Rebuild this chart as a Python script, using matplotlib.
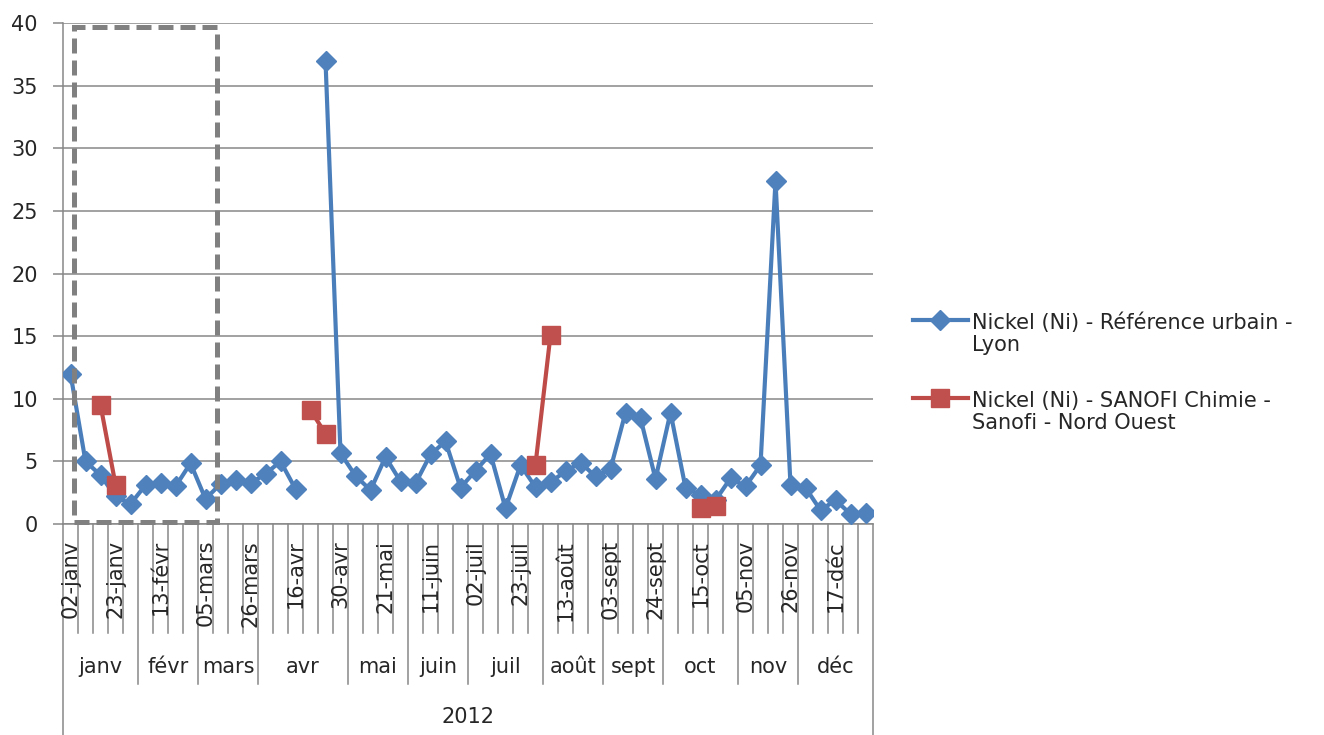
import numpy as np
import matplotlib
matplotlib.use("Agg")
import matplotlib.pyplot as plt
from matplotlib.lines import Line2D
from matplotlib.patches import Rectangle

plt.rcParams['font.family'] = ['DejaVu Sans']

# ---- data -------------------------------------------------------------
dates = ["02-janv", "09-janv", "16-janv", "23-janv", "30-janv",
         "06-févr", "13-févr", "20-févr", "27-févr",
         "05-mars", "12-mars", "19-mars", "26-mars",
         "02-avr", "09-avr", "16-avr", "23-avr", "25-avr", "30-avr",
         "07-mai", "14-mai", "21-mai", "28-mai",
         "04-juin", "11-juin", "18-juin", "25-juin",
         "02-juil", "09-juil", "16-juil", "23-juil", "30-juil",
         "06-août", "13-août", "20-août", "27-août",
         "03-sept", "10-sept", "17-sept", "24-sept",
         "01-oct", "08-oct", "15-oct", "22-oct", "29-oct",
         "05-nov", "12-nov", "19-nov", "26-nov",
         "03-déc", "10-déc", "17-déc", "24-déc", "31-déc"]
year = "2012"

nan = np.nan
lyon = [12.0, 5.0, 3.9, 2.2, 1.6, 3.1, 3.3, 3.0, 4.85, 2.0,
        3.2, 3.5, 3.25, 4.0, 5.0, 2.8, nan, 37.0, 5.65, 3.85,
        2.7, 5.35, 3.4, 3.25, 5.55, 6.6, 2.9, 4.25, 5.6, 1.25,
        4.7, 2.95, 3.35, 4.2, 4.9, 3.8, 4.4, 8.9, 8.45, 3.6,
        8.9, 2.9, 2.3, 1.9, 3.65, 3.0, 4.7, 27.4, 3.1, 2.9,
        1.1, 1.9, 0.8, 0.85]
sanofi = [nan, nan, 9.5, 3.15, nan, nan, nan, nan, nan, nan,
          nan, nan, nan, nan, nan, nan, 9.1, 7.2, nan, nan,
          nan, nan, nan, nan, nan, nan, nan, nan, nan, nan,
          nan, 4.75, 15.1, nan, nan, nan, nan, nan, nan, nan,
          nan, nan, 1.3, 1.45, nan, nan, nan, nan, nan, nan,
          nan, nan, nan, nan]

name_lyon = "Nickel (Ni) - Référence urbain -\nLyon"
name_sanofi = "Nickel (Ni) - SANOFI Chimie -\nSanofi - Nord Ouest"

# ---- style ------------------------------------------------------------
W, H = 1324, 735
grid_c = "#878787"
text_c = "#262626"
blue_l, blue_m = "#4A7EBB", "#4F81BD"
red_l, red_m = "#BE4B48", "#C0504D"
fs = 15

fig = plt.figure(figsize=(W / 100, H / 100), dpi=100)
fig.patch.set_facecolor("white")

ax_l, ax_r, ax_t, ax_b = 63, 873, 23, 524
ax = fig.add_axes([ax_l / W, (H - ax_b) / H, (ax_r - ax_l) / W, (ax_b - ax_t) / H])
ax_h = ax_b - ax_t

n = len(dates)
xs = np.arange(n)
ax.set_xlim(-0.5, n - 0.5)
ax.set_ylim(0, 40)
ax.set_yticks(np.arange(0, 41, 5))
ax.set_xticks([])
ax.yaxis.grid(True, color=grid_c, lw=1.1)
ax.set_axisbelow(True)
for s in ["top", "right", "bottom"]:
    ax.spines[s].set_visible(False)
ax.spines["left"].set_color(grid_c)
ax.spines["left"].set_linewidth(1.1)
ax.tick_params(axis="y", length=7, color=grid_c, width=1.1, pad=11,
               labelsize=fs, labelcolor=text_c)

# series
ax.plot(xs, lyon, color=blue_l, lw=3, marker="D", ms=10.5,
        mfc=blue_m, mec=blue_m, zorder=3)
ax.plot(xs, sanofi, color=red_l, lw=3, marker="s", ms=13.5,
        mfc=red_m, mec=red_m, zorder=4)

# dashed highlight frame around the first weeks
ax.add_patch(Rectangle((0.22, 0.15), 9.57, 39.5, fill=False,
                       edgecolor="#808080", lw=3.6,
                       linestyle=(0, (3, 1.4)), clip_on=False, zorder=5))

# ---- multi-level category axis -----------------------------------------
trans = ax.get_xaxis_transform()
months = [d.split("-", 1)[1] for d in dates]

short_len = -(633 - ax_b) / ax_h
long_len = -(684 - ax_b) / ax_h
full_len = -(H - ax_b) / ax_h

for k in range(1, n):
    y_end = long_len if months[k] != months[k - 1] else short_len
    ax.plot([k - 0.5, k - 0.5], [0, y_end], color=grid_c, lw=1.1,
            transform=trans, clip_on=False)
for xb in (-0.5, n - 0.5):
    ax.plot([xb, xb], [0, full_len], color=grid_c, lw=1.1,
            transform=trans, clip_on=False)
ax.plot([-0.5, n - 0.5], [0, 0], color=grid_c, lw=1.1,
        transform=trans, clip_on=False)

for i in range(0, n, 3):
    ax.text(i, -(540 - ax_b) / ax_h, dates[i], rotation=90, ha="center",
            va="top", transform=trans, fontsize=fs, color=text_c)

# month groups
start = 0
for k in range(1, n + 1):
    if k == n or months[k] != months[start]:
        ax.text((start + k - 1) / 2, -(667 - ax_b) / ax_h, months[start],
                ha="center", va="center", transform=trans, fontsize=fs,
                color=text_c)
        start = k

ax.text((n - 1) / 2, -(717 - ax_b) / ax_h, year, ha="center", va="center",
        transform=trans, fontsize=fs, color=text_c)

# ---- legend -------------------------------------------------------------
def fy(py):
    return 1 - py / H

def fx(px):
    return px / W

entries = [(name_lyon, blue_l, blue_m, "D", 10.5, 320),
           (name_sanofi, red_l, red_m, "s", 13.5, 398)]
for label, lc, mc, mk, ms, py in entries:
    fig.add_artist(Line2D([fx(913), fx(968)], [fy(py), fy(py)], color=lc,
                          lw=3, transform=fig.transFigure))
    fig.add_artist(Line2D([fx(940)], [fy(py)], marker=mk, ms=ms, mfc=mc,
                          mec=mc, lw=0, transform=fig.transFigure))
    fig.text(fx(972), fy(py + 14), label, ha="left", va="center",
             fontsize=fs, color=text_c, linespacing=1.15)

fig.savefig("out.png", dpi=100)
